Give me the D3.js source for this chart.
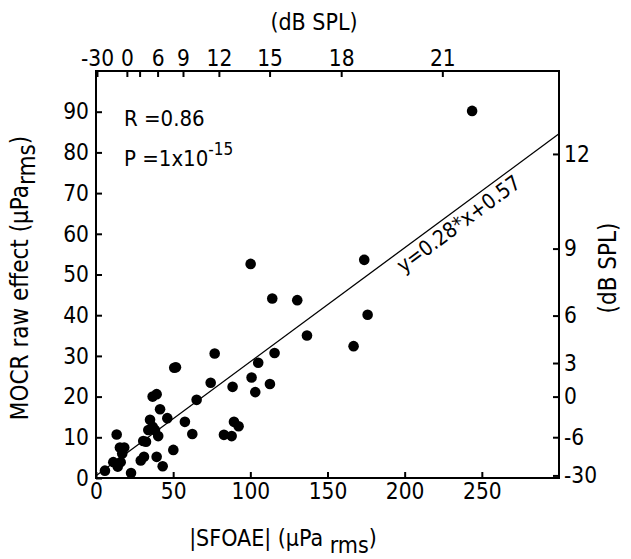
<!DOCTYPE html>
<html>
<head>
<meta charset="utf-8">
<script src="https://cdn.jsdelivr.net/npm/d3@7"></script>
<style>
body { margin: 0; background: #fff; }
svg text { font-family: "Liberation Sans Narrow", "DejaVu Sans Condensed", "Arial Narrow", sans-serif; fill: #000; }
.axis path { display: none; }
.axis line { stroke: #000; stroke-width: 2; }
</style>
</head>
<body>
<svg id="chart" width="631" height="559"></svg>
<script>
// |SFOAE| (uPa rms) and MOCR raw effect (uPa rms), one pair per ear
var sfoae = [5.8, 11.2, 14.1, 16.0, 13.4, 15.5, 18.3, 17.0, 22.7, 29.0,
             31.1, 30.6, 32.4, 33.9, 35.0, 36.7, 38.2, 40.3, 36.7, 39.3,
             41.5, 46.2, 39.3, 43.2, 50.7, 51.8, 50.1, 57.6, 62.4, 65.2,
             74.3, 76.9, 82.9, 87.9, 88.5, 89.4, 92.4, 100.2, 173.8, 114.2,
             130.4, 176.0, 136.7, 166.9, 115.7, 105.1, 100.8, 112.7, 103.2, 243.7];
var mocr  = [1.8, 3.9, 2.8, 3.9, 10.7, 7.5, 7.5, 6.0, 1.2, 4.3,
             5.2, 9.1, 8.9, 11.8, 14.3, 12.6, 11.8, 10.3, 20.0, 20.6,
             16.9, 14.7, 5.2, 2.9, 27.1, 27.2, 6.9, 13.8, 10.8, 19.2,
             23.4, 30.6, 10.6, 10.3, 22.4, 13.8, 12.7, 52.6, 53.6, 44.1,
             43.7, 40.1, 35.0, 32.4, 30.7, 28.3, 24.7, 23.1, 21.1, 90.2];

var xTicks = [0, 50, 100, 150, 200, 250];
var yTicks = [0, 10, 20, 30, 40, 50, 60, 70, 80, 90];
var dbTop = [-30, 0, 3, 6, 9, 12, 15, 18, 21];
var dbTopLabels = ["-30", "0", "", "6", "9", "12", "15", "18", "21"];
var dbRight = [-30, -6, 0, 3, 6, 9, 12];
var fitSlope = 0.28, fitIntercept = 0.57;

var svg = d3.select("#chart");
var margin = {top: 71, right: 72, bottom: 81, left: 96};
var width = 631 - margin.left - margin.right,
    height = 559 - margin.top - margin.bottom;
var g = svg.append("g").attr("transform", "translate(" + margin.left + "," + margin.top + ")");

var x = d3.scaleLinear().domain([0, 300]).range([0, width]),
    y = d3.scaleLinear().domain([0, 100]).range([height, 0]);

// dB SPL re 20 uPa
function toPa(db) { return 20 * Math.pow(10, db / 20); }

var tickFont = "22.5px";

g.append("g").attr("class", "axis")
  .attr("transform", "translate(0," + height + ")")
  .call(d3.axisBottom(x).tickValues(xTicks).tickSizeInner(-6).tickSizeOuter(0).tickPadding(5))
  .selectAll("text").style("font-size", tickFont);

g.append("g").attr("class", "axis")
  .call(d3.axisLeft(y).tickValues(yTicks).tickSizeInner(-6).tickSizeOuter(0).tickPadding(7))
  .selectAll("text").style("font-size", tickFont);

g.append("g").attr("class", "axis")
  .call(d3.axisTop(x).tickValues(dbTop.map(toPa)).tickSizeInner(-6).tickSizeOuter(0).tickPadding(5)
    .tickFormat(function(d, i) { return dbTopLabels[i]; }))
  .selectAll("text").style("font-size", tickFont);

g.append("g").attr("class", "axis")
  .attr("transform", "translate(" + width + ",0)")
  .call(d3.axisRight(y).tickValues(dbRight.map(toPa)).tickSizeInner(-6).tickSizeOuter(0).tickPadding(5)
    .tickFormat(function(d, i) { return dbRight[i]; }))
  .selectAll("text").style("font-size", tickFont);

// frame
g.append("rect")
  .attr("width", width).attr("height", height)
  .attr("fill", "none").attr("stroke", "#000").attr("stroke-width", 2);

// regression line
g.append("line")
  .attr("x1", x(0)).attr("y1", y(fitIntercept))
  .attr("x2", x(300)).attr("y2", y(fitSlope * 300 + fitIntercept))
  .attr("stroke", "#000").attr("stroke-width", 1.3);

var ang = Math.atan2(y(fitSlope * 100) - y(0), x(100) - x(0)) * 180 / Math.PI;
var lx = 230;
g.append("text")
  .attr("transform", "translate(" + x(lx) + "," + y(fitSlope * lx + fitIntercept) + ") rotate(" + ang + ")")
  .attr("text-anchor", "middle")
  .attr("dy", "0.95em")
  .style("font-size", "21px")
  .text("y=0.28*x+0.57");

g.selectAll(".dot")
  .data(sfoae)
  .enter().append("circle")
  .attr("class", "dot")
  .attr("cx", function(d) { return x(d); })
  .attr("cy", function(d, i) { return y(mocr[i]); })
  .attr("r", 5.3)
  .attr("fill", "#000");

// statistics
g.append("text").attr("x", 28).attr("y", 55).style("font-size", "22px").text("R =0.86");
var p = g.append("text").attr("x", 28).attr("y", 95).style("font-size", "22px");
p.append("tspan").text("P =1x10");
p.append("tspan").attr("dy", -11).style("font-size", "17px").text("-15");

// axis titles
svg.append("text").attr("x", 314).attr("y", 30).attr("text-anchor", "middle")
  .style("font-size", "23px").text("(dB SPL)");

svg.append("text").attr("transform", "translate(616,268) rotate(-90)")
  .attr("text-anchor", "middle").style("font-size", "24px").text("(dB SPL)");

var xl = svg.append("text").attr("x", 283).attr("y", 546).attr("text-anchor", "middle")
  .style("font-size", "23px");
xl.append("tspan").text("|SFOAE| (\u03bcPa ");
xl.append("tspan").attr("dy", 7).text("rms");
xl.append("tspan").attr("dy", -7).text(")");

var yl = svg.append("text").attr("transform", "translate(28,278) rotate(-90)")
  .attr("text-anchor", "middle").style("font-size", "24px");
yl.append("tspan").text("MOCR raw effect (\u03bcPa");
yl.append("tspan").attr("dy", 7).text("rms");
yl.append("tspan").attr("dy", -7).text(")");
</script>
</body>
</html>
